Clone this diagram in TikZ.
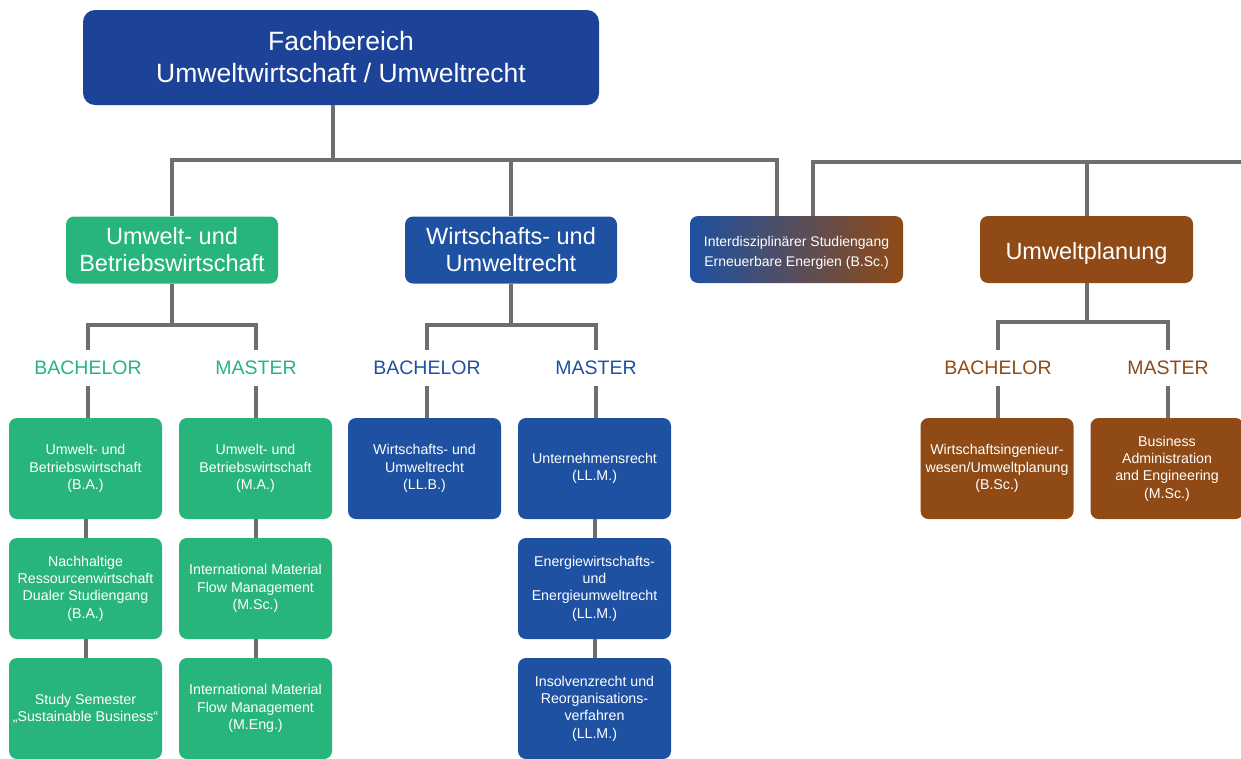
\documentclass[tikz,border=0pt]{standalone}
\usepackage{fontspec}
\setmainfont{Liberation Sans}
\definecolor{topblue}{HTML}{1D4399}
\definecolor{ublue}{HTML}{1F51A2}
\definecolor{ugreen}{HTML}{27B57C}
\definecolor{ubrown}{HTML}{8F4A15}
\definecolor{ugray}{HTML}{6D6E71}
\definecolor{upurple}{RGB}{112,80,112}
\begin{document}
\begin{tikzpicture}[x=1pt,y=-1pt,
  conn/.style={draw=ugray,line width=4pt},
  box/.style={rounded corners=8pt,text=white,align=center,inner sep=0pt},
  topbox/.style={box,rounded corners=12pt,fill=topblue,minimum width=516pt,minimum height=95pt,font=\fontsize{26.5}{32}\selectfont},
  headbox/.style={box,minimum width=212pt,minimum height=67pt,font=\fontsize{23.5}{27}\selectfont},
  progbox/.style={box,minimum width=153pt,minimum height=101pt,font=\fontsize{14.2}{17.3}\selectfont},
  lvl/.style={inner sep=0pt,minimum height=36pt,font=\fontsize{19.5}{22}\selectfont},
  intext/.style={text=white,align=center,inner sep=0pt,yshift=-3.5pt},
]
\useasboundingbox (0,0) rectangle (1241,758);
\clip (0,0) rectangle (1241,758);

% top
\node[topbox] (top) at (341,57.5) {Fachbereich\\Umweltwirtschaft / Umweltrecht};

% level 1
\node[headbox,fill=ugreen] (g1) at (172,250) {Umwelt- und\\Betriebswirtschaft};
\node[headbox,fill=ublue] (b1) at (511,250) {Wirtschafts- und\\Umweltrecht};
\node[headbox,left color=ublue,middle color=upurple,right color=ubrown,minimum width=213pt,
  label={[intext,font=\fontsize{14}{20}\selectfont]center:Interdisziplinärer Studiengang\\Erneuerbare Energien (B.Sc.)}] (grad) at (796.5,249.5) {};
\node[headbox,fill=ubrown,minimum width=213pt,
  label={[intext,font=\fontsize{23.5}{27}\selectfont]center:Umweltplanung}] (r1) at (1086.5,249.5) {};

% junctions
\coordinate (j0) at (333,160);
\coordinate (jL) at (777,160);
\coordinate (jR) at (813,162);
\coordinate (jE) at (1245,162);

\draw[conn] (top.south -| j0) -- (j0);
\draw[conn] (g1.north) |- (jL) -- (jL |- grad.north);
\draw[conn] (b1.north) -- (b1.north |- jL);
\draw[conn] (jR |- grad.north) -- (jR) -- (jE);
\draw[conn] (r1.north) -- (r1.north |- jR);

% level labels
\node[lvl,text=ugreen] (gBa) at (88,368) {BACHELOR};
\node[lvl,text=ugreen] (gMa) at (256,368) {MASTER};
\node[lvl,text=ublue] (bBa) at (427,368) {BACHELOR};
\node[lvl,text=ublue] (bMa) at (596,368) {MASTER};
\node[lvl,text=ubrown] (rBa) at (998,368) {BACHELOR};
\node[lvl,text=ubrown] (rMa) at (1168,368) {MASTER};

\coordinate (hg) at (0,325);
\coordinate (hr) at (0,322);
\draw[conn] (g1.south) -- (g1.south |- hg);
\draw[conn] (gBa.north) |- (gMa.north |- hg) -- (gMa.north);
\draw[conn] (b1.south) -- (b1.south |- hg);
\draw[conn] (bBa.north) |- (bMa.north |- hg) -- (bMa.north);
\draw[conn] (r1.south) -- (r1.south |- hr);
\draw[conn] (rBa.north) |- (rMa.north |- hr) -- (rMa.north);

% programme boxes - green
\node[progbox,fill=ugreen] (g11) at (85.5,468.5) {Umwelt- und\\Betriebswirtschaft\\(B.A.)};
\node[progbox,fill=ugreen] (g12) at (85.5,588.5) {Nachhaltige\\Ressourcenwirtschaft\\Dualer Studiengang\\(B.A.)};
\node[progbox,fill=ugreen] (g13) at (85.5,708.5) {Study Semester\\„Sustainable Business“};
\node[progbox,fill=ugreen] (g21) at (255.5,468.5) {Umwelt- und\\Betriebswirtschaft\\(M.A.)};
\node[progbox,fill=ugreen] (g22) at (255.5,588.5) {International Material\\Flow Management\\(M.Sc.)};
\node[progbox,fill=ugreen] (g23) at (255.5,708.5) {International Material\\Flow Management\\(M.Eng.)};

% blue
\node[progbox,fill=ublue] (b11) at (424.5,468.5) {Wirtschafts- und\\Umweltrecht\\(LL.B.)};
\node[progbox,fill=ublue] (b21) at (594.5,468.5) {Unternehmensrecht\\(LL.M.)};
\node[progbox,fill=ublue] (b22) at (594.5,588.5) {Energiewirtschafts-\\und\\Energieumweltrecht\\(LL.M.)};
\node[progbox,fill=ublue] (b23) at (594.5,708.5) {Insolvenzrecht und\\Reorganisations-\\verfahren\\(LL.M.)};

% brown
\node[progbox,fill=ubrown] (r11) at (997,468.5) {Wirtschaftsingenieur-\\wesen/Umweltplanung\\(B.Sc.)};
\node[progbox,fill=ubrown] (r21) at (1167,468.5) {Business\\Administration\\and Engineering\\(M.Sc.)};

% label to boxes
\draw[conn] (gBa.south) -- (gBa.south |- g11.north);
\draw[conn] (gMa.south) -- (gMa.south |- g21.north);
\draw[conn] (bBa.south) -- (bBa.south |- b11.north);
\draw[conn] (bMa.south) -- (bMa.south |- b21.north);
\draw[conn] (rBa.south) -- (rBa.south |- r11.north);
\draw[conn] (rMa.south) -- (rMa.south |- r21.north);

% stacks
\draw[conn] (g11.south) -- (g12.north);
\draw[conn] (g12.south) -- (g13.north);
\draw[conn] (g21.south) -- (g22.north);
\draw[conn] (g22.south) -- (g23.north);
\draw[conn] (b21.south) -- (b22.north);
\draw[conn] (b22.south) -- (b23.north);
\end{tikzpicture}
\end{document}
